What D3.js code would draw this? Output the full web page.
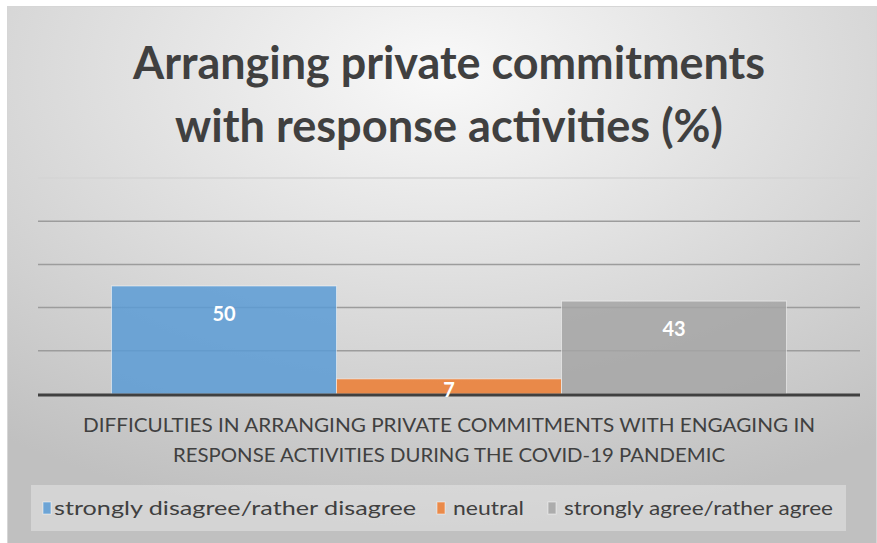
<!DOCTYPE html>
<html>
<head>
<meta charset="utf-8">
<script src="https://cdn.jsdelivr.net/npm/d3@7"></script>
<style>
  body { margin: 0; background: #fff; }
  svg { display: block; }
</style>
</head>
<body>
<div id="wrapper"></div>
<script>
const titleLines = ["Arranging private commitments", "with response activities (%)"];
const categoryLines = [
  "DIFFICULTIES IN ARRANGING PRIVATE COMMITMENTS WITH ENGAGING IN",
  "RESPONSE ACTIVITIES DURING THE COVID-19 PANDEMIC"
];
const category = "difficulties";
const seriesNames = ["strongly disagree/rather disagree", "neutral", "strongly agree/rather agree"];
const seriesValues = [50, 7, 43];
const seriesColors = ["#5b9bd5", "#ed7d31", "#a5a5a5"];
const gridTicks = [0, 20, 40, 60, 80, 100];

const font = "Lato, 'Open Sans', sans-serif";

function drawChart() {
  const width = 877;
  const height = 543;
  const plot = { left: 38, right: 860, top: 178, bottom: 394 };

  const svg = d3.select("#wrapper")
    .append("svg")
    .attr("width", width)
    .attr("height", height);

  const defs = svg.append("defs");
  const grad = defs.append("radialGradient")
    .attr("id", "bg")
    .attr("cx", "50%").attr("cy", "12%")
    .attr("r", "85%");
  grad.append("stop").attr("offset", "0%").attr("stop-color", "#f9f9f9");
  grad.append("stop").attr("offset", "100%").attr("stop-color", "#c0c0c0");

  // chart area
  svg.append("rect")
    .attr("x", 7.5).attr("y", 6.5)
    .attr("width", width - 8).attr("height", height - 6)
    .attr("fill", "url(#bg)")
    .attr("stroke", "#d6d6d6");

  // title
  svg.append("g")
    .selectAll("text")
    .data(titleLines)
    .join("text")
    .attr("x", 449)
    .attr("y", (d, i) => 79 + i * 63)
    .attr("text-anchor", "middle")
    .attr("font-family", font)
    .attr("font-weight", "bold")
    .attr("font-size", 46)
    .attr("fill", "#404040")
    .attr("textLength", (d, i) => [632, 548][i])
    .attr("lengthAdjust", "spacingAndGlyphs")
    .text(d => d);

  const y = d3.scaleLinear().domain([0, 100]).range([plot.bottom, plot.top]);

  const x0 = d3.scaleBand()
    .domain([category])
    .range([plot.left, plot.right])
    .paddingInner(0)
    .paddingOuter(0.1089);

  const x1 = d3.scaleBand()
    .domain(seriesNames)
    .range([0, x0.bandwidth()]);

  const color = d3.scaleOrdinal().domain(seriesNames).range(seriesColors);

  // gridlines
  svg.append("g")
    .selectAll("line")
    .data(gridTicks.filter(t => t > 0))
    .join("line")
    .attr("x1", plot.left)
    .attr("x2", plot.right)
    .attr("y1", d => y(d))
    .attr("y2", d => y(d))
    .attr("stroke", d => d === 100 ? "#d4d4d4" : "#9c9c9c")
    .attr("stroke-width", 1.5);

  const bars = seriesNames.map((s, i) => ({ name: s, value: seriesValues[i] }));

  svg.append("g")
    .selectAll("rect")
    .data(bars)
    .join("rect")
    .attr("x", d => x0(category) + x1(d.name))
    .attr("y", d => y(d.value))
    .attr("width", x1.bandwidth())
    .attr("height", d => y(0) - y(d.value))
    .attr("fill", d => color(d.name))
    .attr("fill-opacity", 0.85)
    .attr("stroke", "#ffffff")
    .attr("stroke-opacity", 0.5)
    .attr("stroke-width", 1);

  // baseline
  svg.append("line")
    .attr("x1", plot.left)
    .attr("x2", plot.right)
    .attr("y1", y(0) + 1)
    .attr("y2", y(0) + 1)
    .attr("stroke", "#404040")
    .attr("stroke-width", 3);

  // value labels (inside end, clamped for short bars)
  svg.append("g")
    .selectAll("text")
    .data(bars)
    .join("text")
    .attr("x", d => x0(category) + x1(d.name) + x1.bandwidth() / 2)
    .attr("y", d => Math.min(y(d.value) + 35, y(0) + 3))
    .attr("text-anchor", "middle")
    .attr("font-family", font)
    .attr("font-weight", "bold")
    .attr("font-size", 20)
    .attr("fill", "#ffffff")
    .text(d => d.value);

  // category label
  svg.append("g")
    .selectAll("text")
    .data(categoryLines)
    .join("text")
    .attr("x", 449)
    .attr("y", (d, i) => 432 + i * 30)
    .attr("text-anchor", "middle")
    .attr("font-family", font)
    .attr("font-size", 19)
    .attr("fill", "#404040")
    .attr("textLength", (d, i) => [732, 552][i])
    .attr("lengthAdjust", "spacingAndGlyphs")
    .text(d => d);

  // legend
  svg.append("rect")
    .attr("x", 31).attr("y", 485)
    .attr("width", 815).attr("height", 46)
    .attr("fill", "#f2f2f2")
    .attr("fill-opacity", 0.4);

  const legendX = [43, 437, 548];
  const legendW = [362, 71, 269];
  const legend = svg.append("g")
    .selectAll("g")
    .data(seriesNames)
    .join("g")
    .attr("transform", (d, i) => `translate(${legendX[i]}, 508)`);

  legend.append("rect")
    .attr("x", 0).attr("y", -6)
    .attr("width", 8).attr("height", 12)
    .attr("fill", d => color(d))
    .attr("fill-opacity", 0.85)
    .attr("stroke", "#ffffff")
    .attr("stroke-opacity", 0.5);

  legend.append("text")
    .attr("x", (d, i) => i === 0 ? 11 : 16)
    .attr("y", 7)
    .attr("font-family", font)
    .attr("font-size", 20)
    .attr("fill", "#404040")
    .attr("textLength", (d, i) => legendW[i])
    .attr("lengthAdjust", "spacingAndGlyphs")
    .text(d => d);
}
drawChart();
</script>
</body>
</html>
